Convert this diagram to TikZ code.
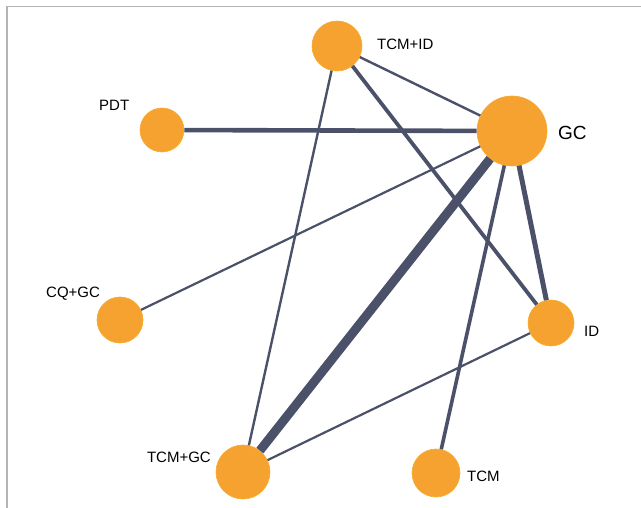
\documentclass[tikz,border=0pt]{standalone}
\usepackage{fontspec}
\setmainfont{Liberation Sans}
\definecolor{nodeor}{HTML}{F6A230}
\definecolor{edgec}{HTML}{4B5169}
\definecolor{framec}{HTML}{B4B4B4}
\begin{document}
\begin{tikzpicture}[x=1pt,y=-1pt,
  trt/.style={circle,fill=nodeor,draw=nodeor!90!yellow,line width=0.6pt,inner sep=0pt},
  lab/.style={inner sep=0pt,font=\fontsize{15}{17}\selectfont,text=black},
  edge/.style={draw=edgec}]
\useasboundingbox (0,0) rectangle (641,508);
\draw[framec,line width=1.5pt] (7,508) -- (7,6.5) -- (641,6.5);
% treatment nodes
\node[trt,minimum size=50pt] (tcmid) at (337,46) {};
\node[trt,minimum size=70pt] (gc) at (512,131) {};
\node[trt,minimum size=44pt] (pdt) at (162,130) {};
\node[trt,minimum size=46pt] (cqgc) at (120,320) {};
\node[trt,minimum size=46pt] (id) at (551,323) {};
\node[trt,minimum size=54pt] (tcmgc) at (243,472) {};
\node[trt,minimum size=48pt] (tcm) at (436,473) {};
% labels
\node[lab,anchor=base west] (ltcmid) at (377,50) {TCM+ID};
\node[lab,anchor=base west,font=\fontsize{19}{21}\selectfont] (lgc) at (558,140) {GC};
\node[lab,anchor=base west] (lpdt) at (99,111) {PDT};
\node[lab,anchor=base west] (lcqgc) at (46,298) {CQ+GC};
\node[lab,anchor=base west] (lid) at (584,337) {ID};
\node[lab,anchor=base east] (ltcmgc) at (211,462) {TCM+GC};
\node[lab,anchor=base west] (ltcm) at (467,481) {TCM};
% edges
\draw[edge,line width=9pt] (gc) -- (tcmgc);
\draw[edge,line width=4.6pt] (pdt) -- (gc);
\draw[edge,line width=2.4pt] (tcmid) -- (gc);
\draw[edge,line width=3.8pt] (tcmid) -- (id);
\draw[edge,line width=2.4pt] (tcmid) -- (tcmgc);
\draw[edge,line width=2.2pt] (gc) -- (cqgc);
\draw[edge,line width=5pt] (gc) -- (id);
\draw[edge,line width=3.6pt] (gc) -- (tcm);
\draw[edge,line width=2.2pt] (id) -- (tcmgc);
\end{tikzpicture}
\end{document}
